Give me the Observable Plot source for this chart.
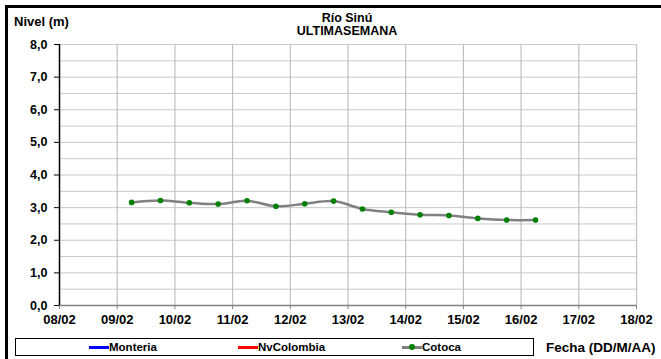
<!DOCTYPE html>
<html><head><meta charset="utf-8">
<script src="https://cdn.jsdelivr.net/npm/d3@7"></script>
<script src="https://cdn.jsdelivr.net/npm/@observablehq/plot@0.6"></script>
<style>
body{margin:0;background:#fff;}
#wrap{position:relative;width:661px;height:359px;overflow:hidden;font-family:"Liberation Sans",Arial,sans-serif;font-weight:bold;color:#000;background:#fff;}
#frame{position:absolute;left:5px;top:5px;width:720px;height:420px;border-left:3px solid #000;border-top:3px solid #000;}
#chart{position:absolute;left:0;top:0;}
.t{position:absolute;white-space:nowrap;line-height:1;}
#ylab{left:14px;top:15px;font-size:13px;}
#title{left:247px;width:200px;top:12px;text-align:center;font-size:12.5px;line-height:13px;}
#legend{position:absolute;left:15px;top:338px;width:517px;height:16px;border:1px solid #000;background:#fff;}
.lg{position:absolute;top:0;height:16px;}
.lg .ln{position:absolute;top:7px;height:2.5px;width:20px;}
.lg .dt{position:absolute;top:5px;width:6px;height:6px;border-radius:3px;background:#008000;}
.lg .tx{position:absolute;top:3px;font-size:11.5px;white-space:nowrap;line-height:1;}
#fecha{left:546px;top:341px;font-size:13.5px;}
</style>
</head><body>
<div id="wrap">
  <div id="frame"></div>
  <div id="chart"></div>
  <div class="t" id="ylab">Nivel (m)</div>
  <div class="t" id="title">Río Sinú<br>ULTIMASEMANA</div>
  <div id="legend"></div>
  <div class="t" id="fecha">Fecha (DD/M/AA)</div>
</div>
<script>
// ---- data ----
const fechas = ["09/02 06:00","09/02 18:00","10/02 06:00","10/02 18:00","11/02 06:00","11/02 18:00",
  "12/02 06:00","12/02 18:00","13/02 06:00","13/02 18:00","14/02 06:00","14/02 18:00",
  "15/02 06:00","15/02 18:00","16/02 06:00"];
const cotoca = [3.16,3.22,3.15,3.11,3.21,3.04,3.12,3.20,2.96,2.86,2.78,2.76,2.67,2.62,2.62];
const monteria = [];
const nvColombia = [];
const xTickLabels = ["08/02","09/02","10/02","11/02","12/02","13/02","14/02","15/02","16/02","17/02","18/02"];
const yTicks = [0,1,2,3,4,5,6,7,8];
const yGridLines = [0.5,1,1.5,2,2.5,3,3.5,4,4.5,5,5.5,6,6.5,7,7.5,8];
const seriesNames = ["Monteria","NvColombia","Cotoca"];
const seriesColors = ["#0000ff","#ff0000","#808080"];

const parseT = d3.utcParse("%d/%m %H:%M");
const parseD = d3.utcParse("%d/%m");
const data = fechas.map((f,i)=>({fecha: parseT(f), nivel: cotoca[i]}));
const xTicks = xTickLabels.map(parseD);

const chart = Plot.plot({
  width: 661, height: 330,
  marginLeft: 59, marginRight: 25, marginTop: 44, marginBottom: 25,
  style: {fontFamily: '"Liberation Sans", Arial, sans-serif', fontWeight: "bold", fontSize: "12px", color: "#000", background: "transparent", overflow: "visible"},
  x: {type: "utc", domain: [xTicks[0], xTicks[xTicks.length-1]]},
  y: {domain: [0, 8]},
  marks: [
    Plot.ruleY(yGridLines, {stroke: "#c8c8c8", strokeWidth: 1}),
    Plot.ruleX(xTicks.slice(1), {stroke: "#c0c0c0", strokeWidth: 1.2}),
    Plot.ruleY([0], {stroke: "#808080", strokeWidth: 1.5}),
    Plot.ruleX([xTicks[0]], {stroke: "#000", strokeWidth: 1.5}),
    Plot.axisX({ticks: xTicks, tickFormat: d3.utcFormat("%d/%m"), tickSize: 4, tickPadding: 5, stroke: "#808080", fill: "#000", fontSize: 13, label: null}),
    Plot.axisY({ticks: yTicks, tickFormat: d => d.toFixed(1).replace(".", ","), tickSize: 5, tickPadding: 7, stroke: "#000", fill: "#000", fontSize: 12.5, label: null}),
    Plot.line(monteria, {x: "fecha", y: "nivel", stroke: seriesColors[0]}),
    Plot.line(nvColombia, {x: "fecha", y: "nivel", stroke: seriesColors[1]}),
    Plot.line(data, {x: "fecha", y: "nivel", stroke: seriesColors[2], strokeWidth: 2.5, curve: "catmull-rom"}),
    Plot.dot(data, {x: "fecha", y: "nivel", r: 2.8, fill: "#008000", stroke: "none"})
  ]
});
document.getElementById("chart").appendChild(chart);

// legend
const legPos = [73, 222, 386]; // left offsets of each entry inside legend box
const legend = document.getElementById("legend");
seriesNames.forEach((name, i) => {
  const g = document.createElement("div");
  g.className = "lg";
  g.style.left = legPos[i] + "px";
  const ln = document.createElement("div");
  ln.className = "ln"; ln.style.left = "0px"; ln.style.background = seriesColors[i];
  g.appendChild(ln);
  if (name === "Cotoca") {
    const dt = document.createElement("div");
    dt.className = "dt"; dt.style.left = "7px";
    g.appendChild(dt);
  }
  const tx = document.createElement("div");
  tx.className = "tx"; tx.style.left = "20px"; tx.textContent = name;
  g.appendChild(tx);
  legend.appendChild(g);
});
</script>
</body></html>
